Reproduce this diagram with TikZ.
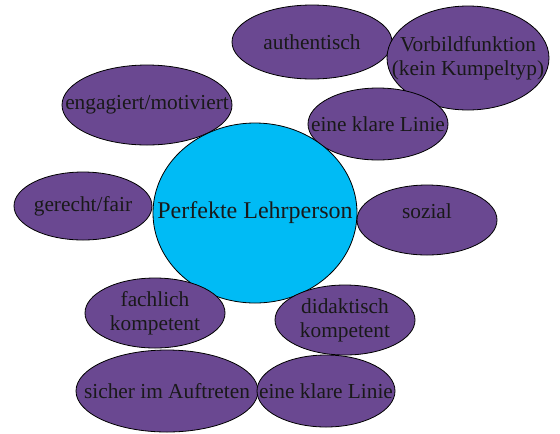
\documentclass[tikz,border=0pt]{standalone}
\usepackage{fontspec}
\setmainfont{Liberation Serif}
\usetikzlibrary{shapes.geometric}
\definecolor{bubblepurple}{RGB}{106,72,145}
\definecolor{centreblue}{RGB}{0,187,245}
\begin{document}
\begin{tikzpicture}[
    x=0.75pt, y=-0.75pt,
    bubbletext/.style={font=\fontsize{16}{18}\selectfont, align=center, text=black!90, inner sep=0pt},
    bubble/.style={ellipse, draw=black, line width=0.6pt, fill=bubblepurple, inner sep=0pt, label={[bubbletext]center:#1}},
    centre/.style={ellipse, draw=black, line width=0.6pt, fill=centreblue, inner sep=0pt, label={[bubbletext, font=\fontsize{18}{21}\selectfont]center:#1}}
]
    \useasboundingbox (0,0) rectangle (560,433);

    % top row
    \node[bubble=authentisch, minimum width=120pt, minimum height=55.5pt] (auth) at (312,42) {};
    \node[bubble={Vorbildfunktion\\(kein Kumpeltyp)}, minimum width=121.5pt, minimum height=78pt] (vorbild) at (468,58) {};
    \node[bubble=eine klare Linie, minimum width=105pt, minimum height=54pt] (linieA) at (378,124) {};
    \node[bubble=engagiert/motiviert, minimum width=127.5pt, minimum height=60pt] (engagiert) at (147,105) {};

    % centre
    \node[centre=Perfekte Lehrperson, minimum width=153pt, minimum height=135pt] (lehrer) at (255,213) {};

    % left and right
    \node[bubble=gerecht/fair, minimum width=103.5pt, minimum height=51pt] (fair) at (83,206) {};
    \node[bubble={\raisebox{14pt}{sozial}}, minimum width=105pt, minimum height=52.5pt] (sozial) at (427,220) {};

    % bottom rows
    \node[bubble={fachlich\\kompetent}, minimum width=105pt, minimum height=52.5pt] (fach) at (155,313) {};
    \node[bubble={didaktisch\\kompetent}, minimum width=105pt, minimum height=52.5pt] (didaktik) at (345,320) {};
    \node[bubble=sicher im Auftreten, minimum width=136.5pt, minimum height=61.5pt] (sicher) at (167,391) {};
    \node[bubble=eine klare Linie, minimum width=103.5pt, minimum height=54pt] (linieB) at (326,391) {};
\end{tikzpicture}
\end{document}
